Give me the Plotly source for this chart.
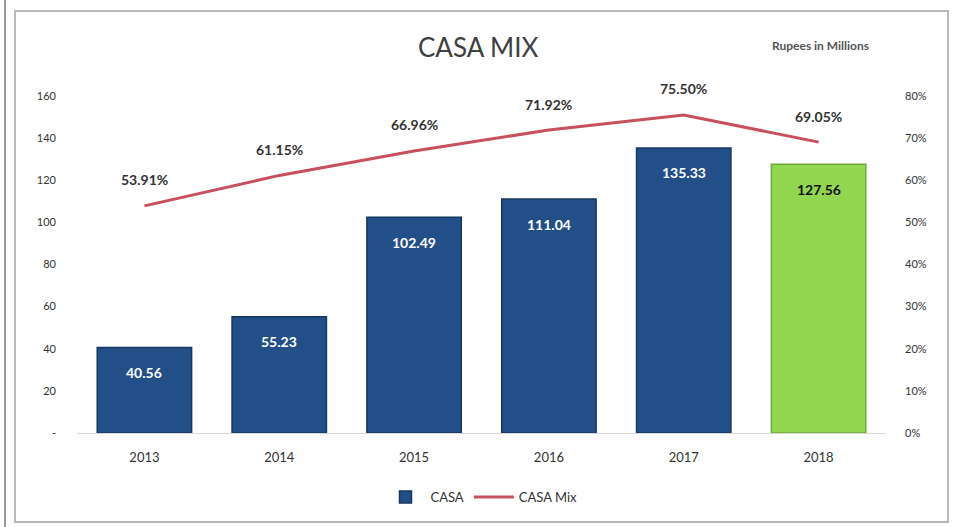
import plotly.graph_objects as go

years = ["2013", "2014", "2015", "2016", "2017", "2018"]
casa = [40.56, 55.23, 102.49, 111.04, 135.33, 127.56]
casa_mix = [0.5391, 0.6115, 0.6696, 0.7192, 0.7550, 0.6905]
left_ticks = [0, 20, 40, 60, 80, 100, 120, 140, 160]
left_tick_text = ["-", "20", "40", "60", "80", "100", "120", "140", "160"]
right_ticks = [0, 0.1, 0.2, 0.3, 0.4, 0.5, 0.6, 0.7, 0.8]
right_tick_text = ["0%", "10%", "20%", "30%", "40%", "50%", "60%", "70%", "80%"]

W, H = 954, 527
ML, MR, MT, MB = 77, 68, 96, 94

BLUE = "#234F89"
BLUE_EDGE = "#17375F"
GREEN = "#92D650"
GREEN_EDGE = "#6FA83A"
RED = "#C8505E"
FONT = "Lato, 'Open Sans', sans-serif"

bar_colors = [BLUE] * 5 + [GREEN]
edge_colors = [BLUE_EDGE] * 5 + [GREEN_EDGE]

fig = go.Figure()
fig.add_trace(go.Bar(
    x=years, y=casa, name="CASA",
    marker=dict(color=bar_colors, line=dict(color=edge_colors, width=1.5)),
    yaxis="y", hoverinfo="skip",
))
fig.add_trace(go.Scatter(
    x=years, y=casa_mix, name="CASA Mix", mode="lines",
    line=dict(color=RED, width=3), yaxis="y2", hoverinfo="skip",
))

# value labels inside the top of each bar
for i, (yr, v) in enumerate(zip(years, casa)):
    fig.add_annotation(
        x=i, y=v, xref="x", yref="y", text=f"<b>{v:.2f}</b>",
        showarrow=False, yanchor="middle", yshift=-25,
        font=dict(family=FONT, size=14,
                  color="#111111" if i == len(years) - 1 else "white"),
    )

# percentage labels above the line points
for i, p in enumerate(casa_mix):
    fig.add_annotation(
        x=i, y=p, xref="x", yref="y2", text=f"<b>{p*100:.2f}%</b>",
        showarrow=False, yanchor="middle", yshift=26,
        font=dict(family=FONT, size=14, color="#333333"),
    )

def px_to_paper_x(px):
    return (px - ML) / (W - ML - MR)

def px_to_paper_y(py):
    return (H - MB - py) / (H - MT - MB)

# chart frame
fig.add_shape(type="rect", xref="paper", yref="paper",
              x0=px_to_paper_x(15), x1=px_to_paper_x(948),
              y0=px_to_paper_y(522), y1=px_to_paper_y(11),
              line=dict(color="#B8B8B8", width=2), layer="below")
fig.add_shape(type="line", xref="paper", yref="paper",
              x0=px_to_paper_x(5), x1=px_to_paper_x(5),
              y0=px_to_paper_y(527), y1=px_to_paper_y(0),
              line=dict(color="#9A9A9A", width=2))

fig.add_annotation(
    text="CASA MIX", xref="paper", yref="paper",
    x=px_to_paper_x(478), y=px_to_paper_y(47),
    showarrow=False, xanchor="center", yanchor="middle",
    font=dict(family=FONT, size=26, color="#404040"),
)
fig.add_annotation(
    text="<b>Rupees in Millions</b>", xref="paper", yref="paper",
    x=px_to_paper_x(820), y=px_to_paper_y(45),
    showarrow=False, xanchor="center", yanchor="middle",
    font=dict(family=FONT, size=12, color="#555555"),
)

fig.update_layout(
    width=W, height=H,
    margin=dict(l=ML, r=MR, t=MT, b=MB),
    paper_bgcolor="white", plot_bgcolor="white",
    bargap=0.3,
    showlegend=True,
    legend=dict(orientation="h", x=0.5, xanchor="center",
                y=px_to_paper_y(497), yanchor="middle",
                font=dict(family=FONT, size=13, color="#333333"),
                itemwidth=40, traceorder="normal"),
    xaxis=dict(
        type="category", range=[-0.5, len(years) - 0.5], autorange=False,
        showgrid=False, showline=True, linecolor="#D9D9D9", linewidth=1,
        ticks="", tickfont=dict(family=FONT, size=13, color="#333333"),
        ticklabelstandoff=12,
    ),
    yaxis=dict(
        range=[0, 160], autorange=False,
        tickvals=left_ticks, ticktext=left_tick_text,
        showgrid=False, zeroline=False, showline=False, ticks="",
        tickfont=dict(family=FONT, size=11, color="#333333"),
        ticklabelstandoff=20,
    ),
    yaxis2=dict(
        range=[0, 0.8], autorange=False,
        tickvals=right_ticks, ticktext=right_tick_text,
        overlaying="y", side="right",
        showgrid=False, zeroline=False, showline=False, ticks="",
        tickfont=dict(family=FONT, size=11, color="#333333"),
        ticklabelstandoff=18,
    ),
)

fig.write_html("out.html")
